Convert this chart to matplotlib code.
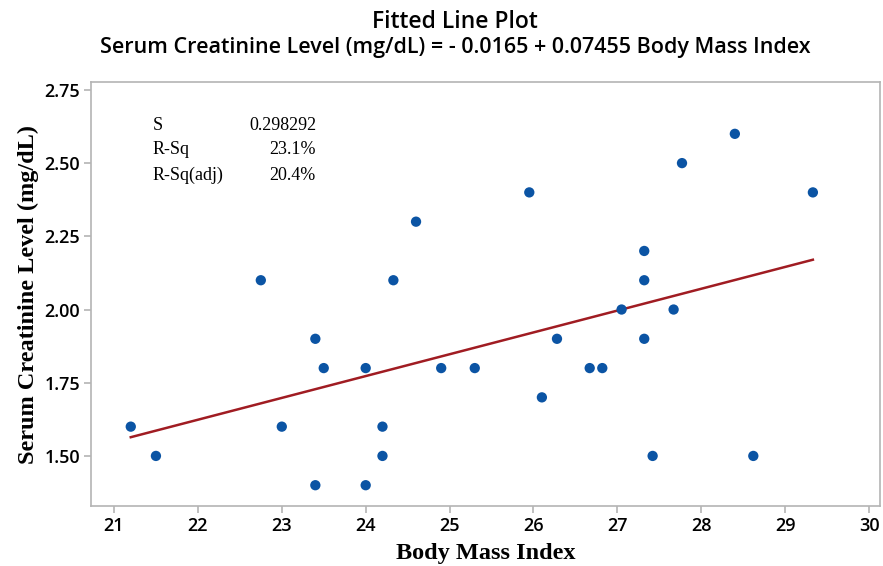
import numpy as np
import matplotlib
matplotlib.use('Agg')
import matplotlib.pyplot as plt

# Dados
bmi = [21.2, 21.5, 22.75, 23.0, 23.4, 23.4, 23.5, 24.0, 24.0, 24.2,
       24.2, 24.33, 24.6, 24.9, 25.3, 25.95, 26.1, 26.28, 26.67, 26.82,
       27.05, 27.32, 27.32, 27.32, 27.42, 27.77, 27.67, 28.4, 28.62, 29.33]
creatinina = [1.6, 1.5, 2.1, 1.6, 1.9, 1.4, 1.8, 1.8, 1.4, 1.6,
              1.5, 2.1, 2.3, 1.8, 1.8, 2.4, 1.7, 1.9, 1.8, 1.8,
              2.0, 2.2, 2.1, 1.9, 1.5, 2.5, 2.0, 2.6, 1.5, 2.4]
intercepto = -0.0165
inclinacao = 0.07455
xticks = [21, 22, 23, 24, 25, 26, 27, 28, 29, 30]
yticks = [1.50, 1.75, 2.00, 2.25, 2.50, 2.75]
stats_nomes = ['S', 'R-Sq', 'R-Sq(adj)']
stats_valores = ['0.298292', '23.1%', '20.4%']

cinza = '#B4B4B4'

fig = plt.figure(figsize=(8.83, 5.66), dpi=100)
ax = fig.add_axes([91 / 883, 1 - 506 / 566, (880 - 91) / 883, (506 - 82) / 566])

# Linha ajustada
x_linha = np.array([min(bmi), max(bmi)])
y_linha = intercepto + inclinacao * x_linha
ax.plot(x_linha, y_linha, color='#A01C22', linewidth=1.8, zorder=2)

# Pontos
ax.scatter(bmi, creatinina, s=55, color='#0B54A4', edgecolors='none', zorder=3)

ax.set_xlim(20.726, 30.13)
ax.set_ylim(1.329, 2.777)
ax.set_xticks(xticks)
ax.set_yticks(yticks)
ax.set_xticklabels([str(t) for t in xticks])
ax.set_yticklabels([f'{t:.2f}' for t in yticks])

for s in ax.spines.values():
    s.set_color(cinza)
    s.set_linewidth(1.2)
ax.tick_params(axis='both', direction='out', length=5, width=1.2, color=cinza,
               labelsize=13, pad=3)
for lab in ax.get_xticklabels() + ax.get_yticklabels():
    lab.set_fontfamily('Open Sans')
    lab.set_fontweight('semibold')

ax.set_xlabel('Body Mass Index', fontfamily='Liberation Serif', fontweight='bold',
              fontsize=17.5, labelpad=6)
ax.set_ylabel('Serum Creatinine Level (mg/dL)', fontfamily='Liberation Serif',
              fontweight='bold', fontsize=17.5, labelpad=4)

# Títulos
fig.text(455 / 883, 1 - 22 / 566, 'Fitted Line Plot', ha='center', va='center',
         fontfamily='Open Sans', fontweight='semibold', fontsize=16.5)
fig.text(455 / 883, 1 - 48 / 566,
         'Serum Creatinine Level (mg/dL) = - 0.0165 + 0.07455 Body Mass Index',
         ha='center', va='center', fontfamily='Open Sans', fontweight='semibold',
         fontsize=15.5)

# Caixa de estatísticas
for i, (nome, valor) in enumerate(zip(stats_nomes, stats_valores)):
    y = 1 - (125 + 25 * i) / 566
    fig.text(153 / 883, y, nome, ha='left', va='center',
             fontfamily='Liberation Serif', fontsize=13)
    fig.text(316 / 883, y, valor, ha='right', va='center',
             fontfamily='Liberation Serif', fontsize=13)

plt.savefig('out.png', dpi=100)
